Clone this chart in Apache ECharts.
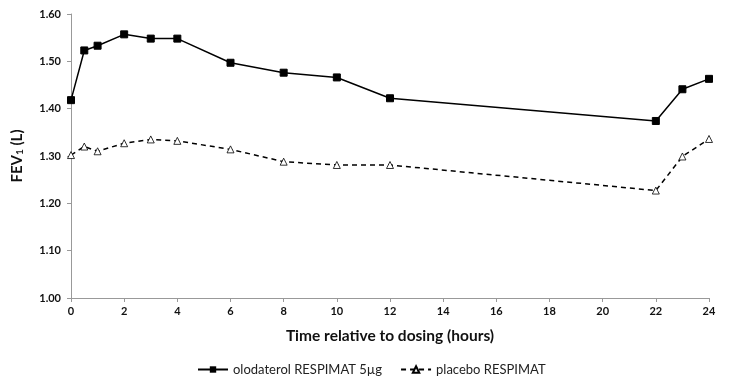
<!DOCTYPE html>
<html><head><meta charset="utf-8">
<script src="https://cdn.jsdelivr.net/npm/echarts@6/dist/echarts.min.js"></script>
<style>html,body{margin:0;padding:0;background:#fff}#c{width:729px;height:391px}</style>
</head><body><div id="c"></div>
<script>
var hours = [0, 0.5, 1, 2, 3, 4, 6, 8, 10, 12, 22, 23, 24];
var olodaterol = [1.418, 1.523, 1.533, 1.557, 1.548, 1.548, 1.497, 1.476, 1.466, 1.422, 1.374, 1.441, 1.463];
var placebo = [1.302, 1.320, 1.310, 1.327, 1.335, 1.332, 1.314, 1.288, 1.281, 1.281, 1.227, 1.299, 1.336];
var seriesNames = ['olodaterol RESPIMAT 5µg', 'placebo RESPIMAT'];

function pairs(xs, ys){ return xs.map(function(x,i){ return [x, ys[i]]; }); }
var font = 'Lato, "Open Sans", sans-serif';
var chart = echarts.init(document.getElementById('c'));
chart.setOption({
  animation: false,
  backgroundColor: '#fff',
  grid: {left: 71, right: 20, top: 14, bottom: 93},
  legend: {
    bottom: 10, left: 192, itemGap: 18, itemWidth: 30, itemHeight: 8,
    textStyle: {fontFamily: font, fontSize: 13, color: '#222'},
    data: seriesNames
  },
  xAxis: {
    type: 'value', min: 0, max: 24, interval: 2,
    name: 'Time relative to dosing (hours)', nameLocation: 'middle', nameGap: 30,
    nameTextStyle: {fontFamily: font, fontSize: 15.5, fontWeight: 'bold', color: '#111'},
    axisLine: {lineStyle: {color: '#999'}},
    axisTick: {show: true, length: 4, lineStyle: {color: '#999'}},
    axisLabel: {fontFamily: font, fontSize: 11, fontWeight: 'bold', color: '#111', margin: 8},
    splitLine: {show: false}
  },
  yAxis: {
    type: 'value', min: 1.0, max: 1.6, interval: 0.1,
    name: '{a|FEV}{s|1}{a| (L)}', nameLocation: 'middle', nameGap: 46, nameRotate: 90,
    nameTextStyle: {rich: {
      a: {fontFamily: font, fontSize: 15, fontWeight: 'bold', color: '#111'},
      s: {fontFamily: font, fontSize: 10, fontWeight: 'bold', color: '#111', verticalAlign: 'bottom', padding: [6,0,0,0]}
    }},
    axisLine: {show: true, lineStyle: {color: '#999'}},
    axisTick: {show: true, length: 4, lineStyle: {color: '#999'}},
    axisLabel: {fontFamily: font, fontSize: 11, fontWeight: 'bold', color: '#111', margin: 10,
      formatter: function(v){ return v.toFixed(2); }},
    splitLine: {show: false}
  },
  series: [
    {name: seriesNames[0], type: 'line', data: pairs(hours, olodaterol),
     symbol: 'rect', symbolSize: 7, color: '#000',
     lineStyle: {color: '#000', width: 1.5},
     itemStyle: {color: '#000', borderColor: '#000'}},
    {name: seriesNames[1], type: 'line', data: pairs(hours, placebo),
     symbol: 'triangle', symbolSize: 7, color: '#000',
     lineStyle: {color: '#000', width: 1.5, type: [5, 4]},
     itemStyle: {color: '#fff', borderColor: '#000', borderWidth: 0.8}}
  ]
});
</script></body></html>
